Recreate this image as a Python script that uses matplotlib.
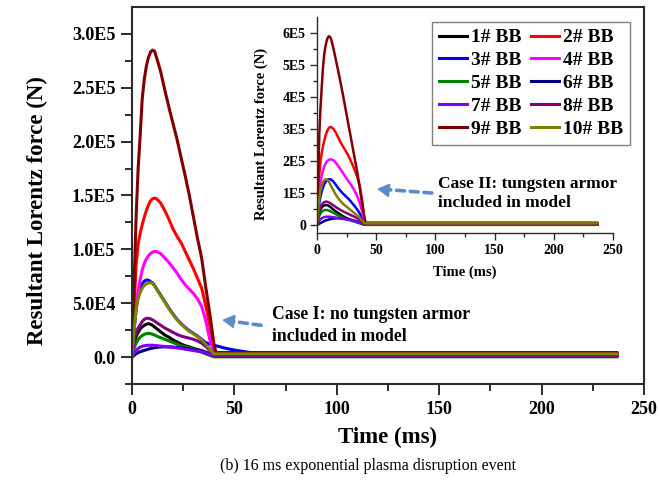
import matplotlib
matplotlib.use("Agg")
import matplotlib.pyplot as plt
import numpy as np

plt.rcParams['font.family'] = ['Liberation Serif', 'DejaVu Serif']
plt.rcParams['font.weight'] = 'bold'

# Time grid (ms)
time_ms = [0, 1, 2, 3, 4, 5, 6, 7, 8, 9, 10, 11, 12, 14, 16, 18, 20, 22, 24, 26,
           28, 30, 32, 34, 36, 38, 40, 41, 43, 46, 50, 55, 60, 237]

UNIT = 1e4  # force values below are in units of 1E4 N

labels = ['1# BB', '2# BB', '3# BB', '4# BB', '5# BB',
          '6# BB', '7# BB', '8# BB', '9# BB', '10# BB']
colors = ['#000000', '#FF0000', '#0000FF', '#FF00FF', '#008000',
          '#000080', '#8000FF', '#800080', '#800000', '#808000']

# Case I: no tungsten armor
case1_bb1 = [0, 1.2, 1.9, 2.3, 2.6, 2.8, 2.95, 3.05, 3.1, 3.05, 2.95, 2.8, 2.65, 2.35, 2.05, 1.85, 1.6, 1.4, 1.2, 1.05,
             0.95, 0.8, 0.7, 0.6, 0.45, 0.3, 0.1, 0.1, 0.1, 0.1, 0.1, 0.1, 0.1, 0.1]
case1_bb2 = [0, 4.5, 8.5, 10.5, 11.5, 12.3, 13.0, 13.6, 14.1, 14.5, 14.7, 14.75, 14.7, 14.3, 13.6, 12.8, 11.9, 11.2, 10.6, 9.8,
             9.0, 8.2, 7.3, 6.4, 4.8, 2.9, 0.9, 0.35, 0.35, 0.35, 0.35, 0.35, 0.35, 0.35]
case1_bb3 = [0, 2.5, 4.5, 5.7, 6.4, 6.8, 7.05, 7.15, 7.15, 7.0, 6.9, 6.65, 6.35, 5.75, 5.15, 4.55, 4.0, 3.5, 3.1, 2.75,
             2.45, 2.2, 1.95, 1.65, 1.35, 1.2, 1.1, 1.05, 0.95, 0.8, 0.65, 0.5, 0.35, 0.2]
case1_bb4 = [0, 2.5, 4.5, 6.1, 7.2, 8.1, 8.7, 9.1, 9.4, 9.6, 9.75, 9.8, 9.8, 9.6, 9.2, 8.8, 8.3, 7.8, 7.2, 6.7,
             6.3, 5.9, 5.4, 4.7, 3.4, 1.6, 0.4, 0.25, 0.25, 0.25, 0.25, 0.25, 0.25, 0.25]
case1_bb5 = [0, 0.8, 1.3, 1.6, 1.85, 2.0, 2.1, 2.18, 2.2, 2.18, 2.12, 2.05, 1.95, 1.8, 1.65, 1.5, 1.35, 1.2, 1.05, 0.95,
             0.85, 0.72, 0.6, 0.45, 0.3, 0.15, 0.02, 0.02, 0.02, 0.02, 0.02, 0.02, 0.02, 0.02]
case1_bb6 = [0, 0.15, 0.3, 0.4, 0.5, 0.56, 0.62, 0.68, 0.74, 0.79, 0.83, 0.87, 0.9, 0.94, 0.95, 0.95, 0.93, 0.9, 0.86, 0.8,
             0.74, 0.67, 0.6, 0.52, 0.45, 0.3, 0.15, 0.1, 0.1, 0.1, 0.1, 0.1, 0.1, 0.1]
case1_bb7 = [0, 0.35, 0.6, 0.8, 0.92, 1.0, 1.05, 1.08, 1.1, 1.1, 1.1, 1.08, 1.06, 1.02, 0.97, 0.93, 0.9, 0.85, 0.8, 0.73,
             0.67, 0.6, 0.55, 0.5, 0.4, 0.25, 0.1, 0.08, 0.08, 0.08, 0.08, 0.08, 0.08, 0.08]
case1_bb8 = [0, 1.5, 2.3, 2.7, 3.0, 3.3, 3.5, 3.6, 3.6, 3.55, 3.45, 3.35, 3.2, 2.95, 2.7, 2.5, 2.3, 2.1, 1.95, 1.85,
             1.75, 1.65, 1.5, 1.3, 1.0, 0.6, 0.2, 0.15, 0.15, 0.15, 0.15, 0.15, 0.15, 0.15]
case1_bb9 = [0, 6.6, 13.0, 17.5, 20.6, 24.0, 25.8, 27.0, 27.8, 28.3, 28.5, 28.4, 27.8, 26.5, 24.8, 23.2, 21.7, 20.2, 18.5, 16.8,
             15.0, 13.0, 11.0, 9.2, 6.5, 4.0, 1.2, 0.42, 0.42, 0.42, 0.42, 0.42, 0.42, 0.42]
case1_bb10 = [0, 2.5, 4.4, 5.4, 6.0, 6.4, 6.65, 6.8, 6.88, 6.9, 6.85, 6.6, 6.3, 5.7, 5.1, 4.5, 3.95, 3.45, 3.05, 2.7,
              2.4, 2.15, 1.9, 1.6, 1.2, 0.7, 0.3, 0.3, 0.3, 0.3, 0.3, 0.3, 0.3, 0.3]

# Case II: tungsten armor included
case2_bb1 = [0, 2.5, 4.0, 4.9, 5.5, 5.9, 6.1, 6.2, 6.25, 6.15, 5.95, 5.7, 5.4, 4.8, 4.2, 3.7, 3.2, 2.75, 2.35, 2.0,
             1.7, 1.4, 1.15, 0.9, 0.65, 0.4, 0.15, 0.1, 0.1, 0.1, 0.1, 0.1, 0.1, 0.1]
case2_bb2 = [0, 9.0, 16.0, 20.0, 22.5, 24.5, 26.2, 27.6, 28.8, 29.7, 30.3, 30.6, 30.6, 30.0, 28.8, 27.3, 25.8, 24.5, 23.3, 22.0,
             20.5, 18.8, 17.0, 15.0, 12.3, 8.0, 2.0, 0.6, 0.6, 0.6, 0.6, 0.6, 0.6, 0.6]
case2_bb3 = [0, 4.0, 7.0, 9.0, 10.5, 11.7, 12.6, 13.3, 13.8, 14.1, 14.3, 14.3, 14.2, 13.5, 12.5, 11.5, 10.6, 9.8, 9.1, 8.4,
             7.6, 6.7, 5.8, 4.8, 3.7, 2.3, 0.8, 0.3, 0.3, 0.3, 0.3, 0.3, 0.3, 0.3]
case2_bb4 = [0, 6.0, 10.5, 13.5, 15.5, 17.0, 18.2, 19.0, 19.7, 20.1, 20.4, 20.5, 20.5, 20.2, 19.4, 18.4, 17.3, 16.2, 15.1, 14.0,
             13.0, 11.8, 10.5, 9.0, 7.0, 4.5, 1.2, 0.5, 0.5, 0.5, 0.5, 0.5, 0.5, 0.5]
case2_bb5 = [0, 1.8, 2.9, 3.6, 4.1, 4.4, 4.6, 4.7, 4.7, 4.65, 4.5, 4.35, 4.15, 3.75, 3.35, 3.0, 2.65, 2.3, 2.0, 1.75,
             1.5, 1.25, 1.0, 0.8, 0.55, 0.3, 0.08, 0.05, 0.05, 0.05, 0.05, 0.05, 0.05, 0.05]
case2_bb6 = [0, 0.2, 0.4, 0.6, 0.8, 1.0, 1.2, 1.35, 1.5, 1.62, 1.73, 1.82, 1.9, 2.0, 2.08, 2.1, 2.08, 2.0, 1.9, 1.8,
             1.65, 1.5, 1.32, 1.12, 0.85, 0.5, 0.2, 0.15, 0.15, 0.15, 0.15, 0.15, 0.15, 0.15]
case2_bb7 = [0, 0.8, 1.4, 1.8, 2.1, 2.3, 2.45, 2.55, 2.6, 2.6, 2.6, 2.57, 2.52, 2.42, 2.3, 2.18, 2.05, 1.92, 1.8, 1.66,
             1.52, 1.38, 1.22, 1.05, 0.8, 0.5, 0.15, 0.1, 0.1, 0.1, 0.1, 0.1, 0.1, 0.1]
case2_bb8 = [0, 3.0, 4.7, 5.7, 6.3, 6.8, 7.1, 7.25, 7.3, 7.2, 7.05, 6.85, 6.6, 6.1, 5.6, 5.1, 4.65, 4.25, 3.9, 3.55,
             3.2, 2.85, 2.5, 2.1, 1.6, 1.0, 0.4, 0.3, 0.3, 0.3, 0.3, 0.3, 0.3, 0.3]
case2_bb9 = [0, 15.0, 29.0, 37.0, 43.0, 49.0, 53.0, 55.5, 57.3, 58.5, 59.0, 58.8, 58.0, 55.0, 51.5, 48.0, 44.3, 40.5, 36.5, 32.5,
             28.5, 24.5, 20.5, 16.5, 12.0, 7.0, 2.5, 0.7, 0.7, 0.7, 0.7, 0.7, 0.7, 0.7]
case2_bb10 = [0, 5.0, 8.5, 10.8, 12.3, 13.3, 13.9, 14.2, 14.3, 14.1, 13.6, 12.9, 12.1, 10.7, 9.4, 8.3, 7.4, 6.6, 6.0, 5.4,
              4.8, 4.2, 3.6, 3.0, 2.3, 1.4, 0.6, 0.5, 0.5, 0.5, 0.5, 0.5, 0.5, 0.5]

case1 = [case1_bb1, case1_bb2, case1_bb3, case1_bb4, case1_bb5,
         case1_bb6, case1_bb7, case1_bb8, case1_bb9, case1_bb10]
case2 = [case2_bb1, case2_bb2, case2_bb3, case2_bb4, case2_bb5,
         case2_bb6, case2_bb7, case2_bb8, case2_bb9, case2_bb10]

main_xticks = [0, 50, 100, 150, 200, 250]
main_yticks = [0, 5e4, 1e5, 1.5e5, 2e5, 2.5e5, 3e5]
main_yticklabels = ['0.0', '5.0E4', '1.0E5', '1.5E5', '2.0E5', '2.5E5', '3.0E5']
inset_yticks = [0, 1e5, 2e5, 3e5, 4e5, 5e5, 6e5]
inset_yticklabels = ['0', '1E5', '2E5', '3E5', '4E5', '5E5', '6E5']

W, H = 660, 483
fig = plt.figure(figsize=(W / 100, H / 100), dpi=100)


def px_box(left, top, right, bottom):
    return [left / W, 1 - bottom / H, (right - left) / W, (bottom - top) / H]


spine_col = '#2b2b2b'
arrow_col = '#5B8BC9'

# ---- main axes ----
ax = fig.add_axes(px_box(132, 7, 644, 384))
t = np.array(time_ms)
for vals, c in zip(case1, colors):
    ax.plot(t, np.array(vals) * UNIT, color=c, lw=2.2, solid_capstyle='round', solid_joinstyle='round')
ax.set_xlim(0, 250)
ax.set_ylim(-2.5e4, 3.25e5)
ax.set_xticks(main_xticks)
ax.set_xticklabels([str(v) for v in main_xticks])
ax.set_yticks(main_yticks)
ax.set_yticklabels(main_yticklabels)
ax.set_xticks(np.arange(25, 250, 50), minor=True)
ax.set_yticks(np.arange(-2.5e4, 3.25e5, 5e4), minor=True)
ax.tick_params(which='major', direction='out', length=8, width=1.4, color=spine_col,
               labelsize=13, pad=4)
ax.tick_params(which='minor', direction='out', length=5, width=1.4, color=spine_col)
for lab in ax.get_xticklabels() + ax.get_yticklabels():
    lab.set_fontweight('bold')
for s in ax.spines.values():
    s.set_linewidth(1.5)
    s.set_color(spine_col)
ax.set_xlabel('Time (ms)', fontsize=16.5, fontweight='bold', va='center')
ax.xaxis.set_label_coords(0.5, -0.141)
ax.set_ylabel('Resultant Lorentz force (N)', fontsize=16.5, fontweight='bold', va='center')
ax.yaxis.set_label_coords(-0.184, 0.46)

ax.annotate('', xy=(44, 3.45e4), xytext=(63, 2.95e4),
            arrowprops=dict(arrowstyle='-', color=arrow_col, lw=2.6, ls=(0, (2.2, 1.6)),
                            shrinkA=0, shrinkB=4))
ax.annotate('', xy=(44, 3.45e4), xytext=(48, 3.35e4),
            arrowprops=dict(arrowstyle='-|>,head_length=0.7,head_width=0.4', color=arrow_col,
                            lw=1.5, shrinkA=0, shrinkB=0))
ax.text(68.4, 2.95e4, 'Case I: no tungsten armor\nincluded in model', fontsize=12.7,
        fontweight='bold', ha='left', va='center', linespacing=1.35)

# ---- inset axes ----
ins = fig.add_axes(px_box(317, 17, 613, 233))
ins.patch.set_alpha(0)
for vals, c in zip(case2, colors):
    ins.plot(t, np.array(vals) * UNIT, color=c, lw=1.8,
             solid_capstyle='round', solid_joinstyle='round')
ins.set_xlim(0, 250)
ins.set_ylim(-2.5e4, 6.5e5)
ins.set_xticks(main_xticks)
ins.set_xticklabels([str(v) for v in main_xticks])
ins.set_yticks(inset_yticks)
ins.set_yticklabels(inset_yticklabels)
ins.set_xticks(np.arange(25, 250, 50), minor=True)
ins.set_yticks(np.arange(5e4, 6.5e5, 1e5), minor=True)
ins.tick_params(which='major', direction='out', length=5, width=1.0, color=spine_col,
                labelsize=10, pad=3)
ins.tick_params(which='minor', direction='out', length=3, width=1.0, color=spine_col)
for lab in ins.get_xticklabels() + ins.get_yticklabels():
    lab.set_fontweight('bold')
ins.spines['top'].set_visible(False)
ins.spines['right'].set_visible(False)
for s in ('left', 'bottom'):
    ins.spines[s].set_linewidth(1.0)
    ins.spines[s].set_color(spine_col)
ins.set_xlabel('Time (ms)', fontsize=10.5, fontweight='bold', va='center')
ins.xaxis.set_label_coords(0.5, -0.18)
ins.set_ylabel('Resultant Lorentz force (N)', fontsize=10.5, fontweight='bold', va='center')
ins.yaxis.set_label_coords(-0.189, 0.458)

# legend entries laid out row by row in two columns
order = [0, 2, 4, 6, 8, 1, 3, 5, 7, 9]
handles = [plt.Line2D([], [], color=colors[i], lw=2.2) for i in order]
leg_labels = [labels[i] for i in order]
leg = ins.legend(handles, leg_labels, ncol=2, loc='upper right', bbox_to_anchor=(1.057, 0.977),
                 prop={'family': 'Liberation Serif', 'weight': 'bold', 'size': 14},
                 frameon=True, fancybox=False, edgecolor='#808080', framealpha=1,
                 handlelength=1.45, handletextpad=0.2, columnspacing=0.5,
                 labelspacing=0.27, borderpad=0.35, borderaxespad=0)
leg.get_frame().set_linewidth(1.0)

ins.annotate('', xy=(50.7, 1.13e5), xytext=(97, 1.0e5),
             arrowprops=dict(arrowstyle='-', color=arrow_col, lw=2.6, ls=(0, (2.2, 1.6)),
                             shrinkA=0, shrinkB=4))
ins.annotate('', xy=(50.7, 1.13e5), xytext=(55, 1.11e5),
             arrowprops=dict(arrowstyle='-|>,head_length=0.7,head_width=0.4', color=arrow_col,
                             lw=1.5, shrinkA=0, shrinkB=0))
ins.text(102.2, 0.98e5, 'Case II: tungsten armor\nincluded in model', fontsize=12.5,
         fontweight='bold', ha='left', va='center', linespacing=1.3)

fig.text(368 / W, 1 - 466 / H, '(b) 16 ms exponential plasma disruption event',
         fontsize=11.5, fontweight='normal', ha='center', va='center')

fig.savefig('out.png', dpi=100)
